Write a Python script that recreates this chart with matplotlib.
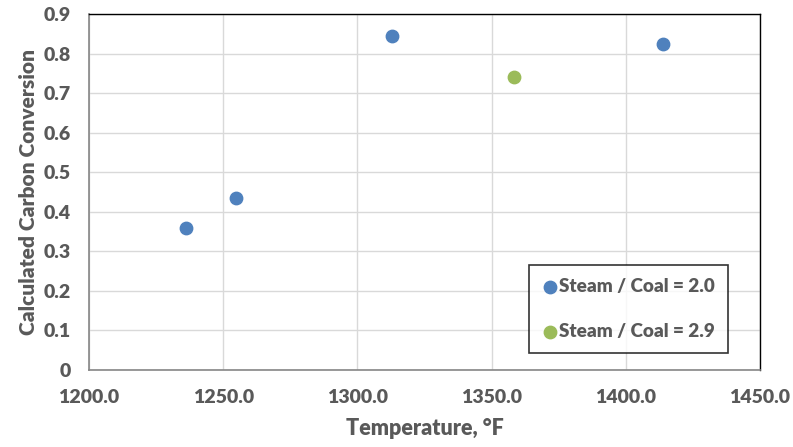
import matplotlib
matplotlib.use("Agg")
import matplotlib.pyplot as plt

# datos
temp_20 = [1236, 1254.6, 1313, 1413.7]
conv_20 = [0.359, 0.436, 0.845, 0.823]
temp_29 = [1358.2]
conv_29 = [0.740]

x_ticks = [1200, 1250, 1300, 1350, 1400, 1450]
y_ticks = [0, 0.1, 0.2, 0.3, 0.4, 0.5, 0.6, 0.7, 0.8, 0.9]
y_labels = ["0", "0.1", "0.2", "0.3", "0.4", "0.5", "0.6", "0.7", "0.8", "0.9"]

gris = "#595959"
plt.rcParams['font.family'] = ['Lato', 'DejaVu Sans']
plt.rcParams['font.weight'] = 'heavy'
peso = 'heavy'

fig = plt.figure(figsize=(7.93, 4.47), dpi=100)
ax = fig.add_axes([89/793, 1 - 370/447, (760-89)/793, (370-14)/447])

ax.scatter(temp_20, conv_20, s=80, color="#4F81BD", label="Steam / Coal = 2.0", zorder=3)
ax.scatter(temp_29, conv_29, s=80, color="#9BBB59", label="Steam / Coal = 2.9", zorder=3)

ax.set_xlim(1200, 1450)
ax.set_ylim(0, 0.9)
ax.set_xticks(x_ticks)
ax.set_xticklabels([f"{t:.1f}" for t in x_ticks], fontweight=peso)
ax.set_yticks(y_ticks)
ax.set_yticklabels(y_labels, fontweight=peso)
ax.grid(True, color="#D9D9D9", linewidth=1)
ax.set_axisbelow(True)
ax.tick_params(length=0, labelsize=14, colors=gris)
ax.tick_params(axis='x', pad=14)
ax.tick_params(axis='y', pad=13)

for s in ["top", "right"]:
  ax.spines[s].set_color("black")
  ax.spines[s].set_linewidth(1)
for s in ["left", "bottom"]:
  ax.spines[s].set_color("#868686")
  ax.spines[s].set_linewidth(1.2)

ax.set_xlabel("Temperature, °F", fontsize=15.5, color=gris, fontweight=peso, labelpad=8)
ax.set_ylabel("Calculated Carbon Conversion", fontsize=15, color=gris, fontweight=peso, labelpad=4)

leg = ax.legend(loc="lower right", bbox_to_anchor=(727.7/793, 1 - 353/447), bbox_transform=fig.transFigure,
                prop={'size': 13.6, 'weight': peso}, frameon=True, fancybox=False, handletextpad=0.0,
                labelspacing=1.45, borderpad=0.7, borderaxespad=0, handlelength=0.9, markerscale=1.0)
leg.get_frame().set_edgecolor("black")
leg.get_frame().set_linewidth(1.2)
for t in leg.get_texts():
  t.set_color(gris)

fig.savefig("out.png", dpi=100)
